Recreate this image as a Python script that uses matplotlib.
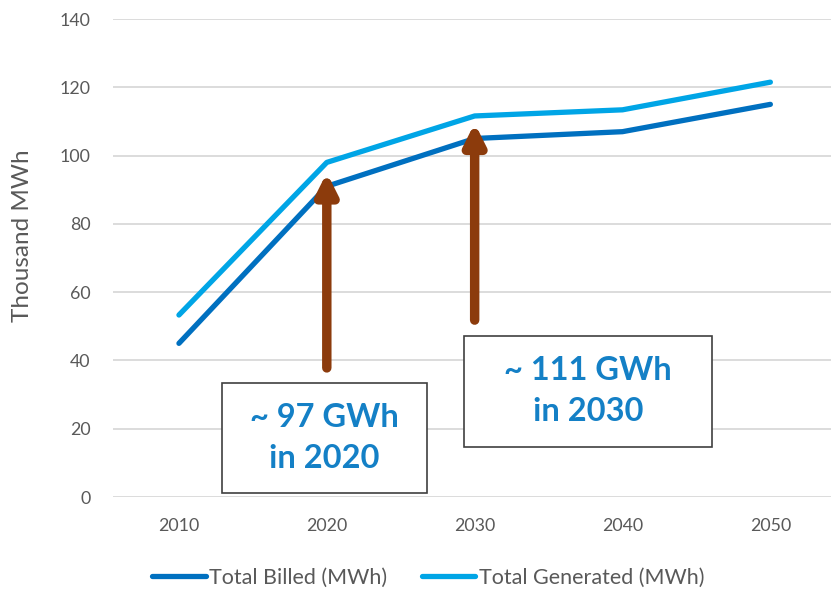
import matplotlib.pyplot as plt
from matplotlib.patches import Rectangle

plt.rcParams['font.family'] = ['Lato', 'DejaVu Sans']

years = [2010, 2020, 2030, 2040, 2050]
billed = [45, 91, 105, 107, 115]
generated = [53.3, 98, 111.6, 113.4, 121.5]

gray = '#595959'
fig = plt.figure(figsize=(8.31, 5.92), dpi=100)
ax = fig.add_axes([113 / 831, 95 / 592, 718 / 831, 478 / 592])

ax.plot(years, billed, color='#0070C0', lw=3.8, solid_capstyle='round',
        label='Total Billed (MWh)', zorder=3)
ax.plot(years, generated, color='#00A5E6', lw=3.8, solid_capstyle='round',
        label='Total Generated (MWh)', zorder=3)

ax.set_xlim(2005.54, 2054.1)
ax.set_ylim(0, 140)
ax.set_xticks(years)
ax.set_yticks(range(0, 141, 20))
ax.grid(axis='y', color='#D9D9D9', lw=1.3)
ax.set_axisbelow(True)
for s in ax.spines.values():
    s.set_visible(False)
ax.tick_params(length=0, labelsize=12.8, labelcolor=gray)
ax.tick_params(axis='x', pad=15)
ax.tick_params(axis='y', pad=16)
ax.set_ylabel('Thousand MWh', fontsize=17.5, color=gray)
ax.yaxis.set_label_coords(-0.112, 0.546)

# arrows pointing at the 2020 and 2030 generation
brown = '#8C3B0C'
for x, y0, y1 in [(2020, 37.8, 95), (2030, 51.8, 109.5)]:
    ax.annotate('', xy=(x, y1), xytext=(x, y0),
                arrowprops=dict(arrowstyle='-|>,head_width=0.6,head_length=1.2',
                                lw=6.8, color=brown, shrinkA=0, shrinkB=0),
                zorder=4)

# callout boxes
blue = '#1480C6'
boxes = [((2012.9, 1.2), 13.86, 32.2, '~ 97 GWh\nin 2020'),
         ((2029.26, 14.6), 16.82, 32.6, '~ 111 GWh\nin 2030')]
for (bx, by), w, h, txt in boxes:
    ax.add_patch(Rectangle((bx, by), w, h, fill=True, fc='white', ec='#404040',
                           lw=1.2, clip_on=False, zorder=5))
    ax.text(bx + w / 2, by + h / 2, txt, ha='center', va='center',
            fontsize=23.5, fontweight='bold', color=blue, linespacing=1.5,
            zorder=6)

ax.legend(loc='center', bbox_to_anchor=(315 / 718, -81 / 478), ncol=2,
          frameon=False, fontsize=15.5, labelcolor=gray, handlelength=2.5,
          handletextpad=0.15, columnspacing=1.6)

fig.savefig('out.png', dpi=100)
